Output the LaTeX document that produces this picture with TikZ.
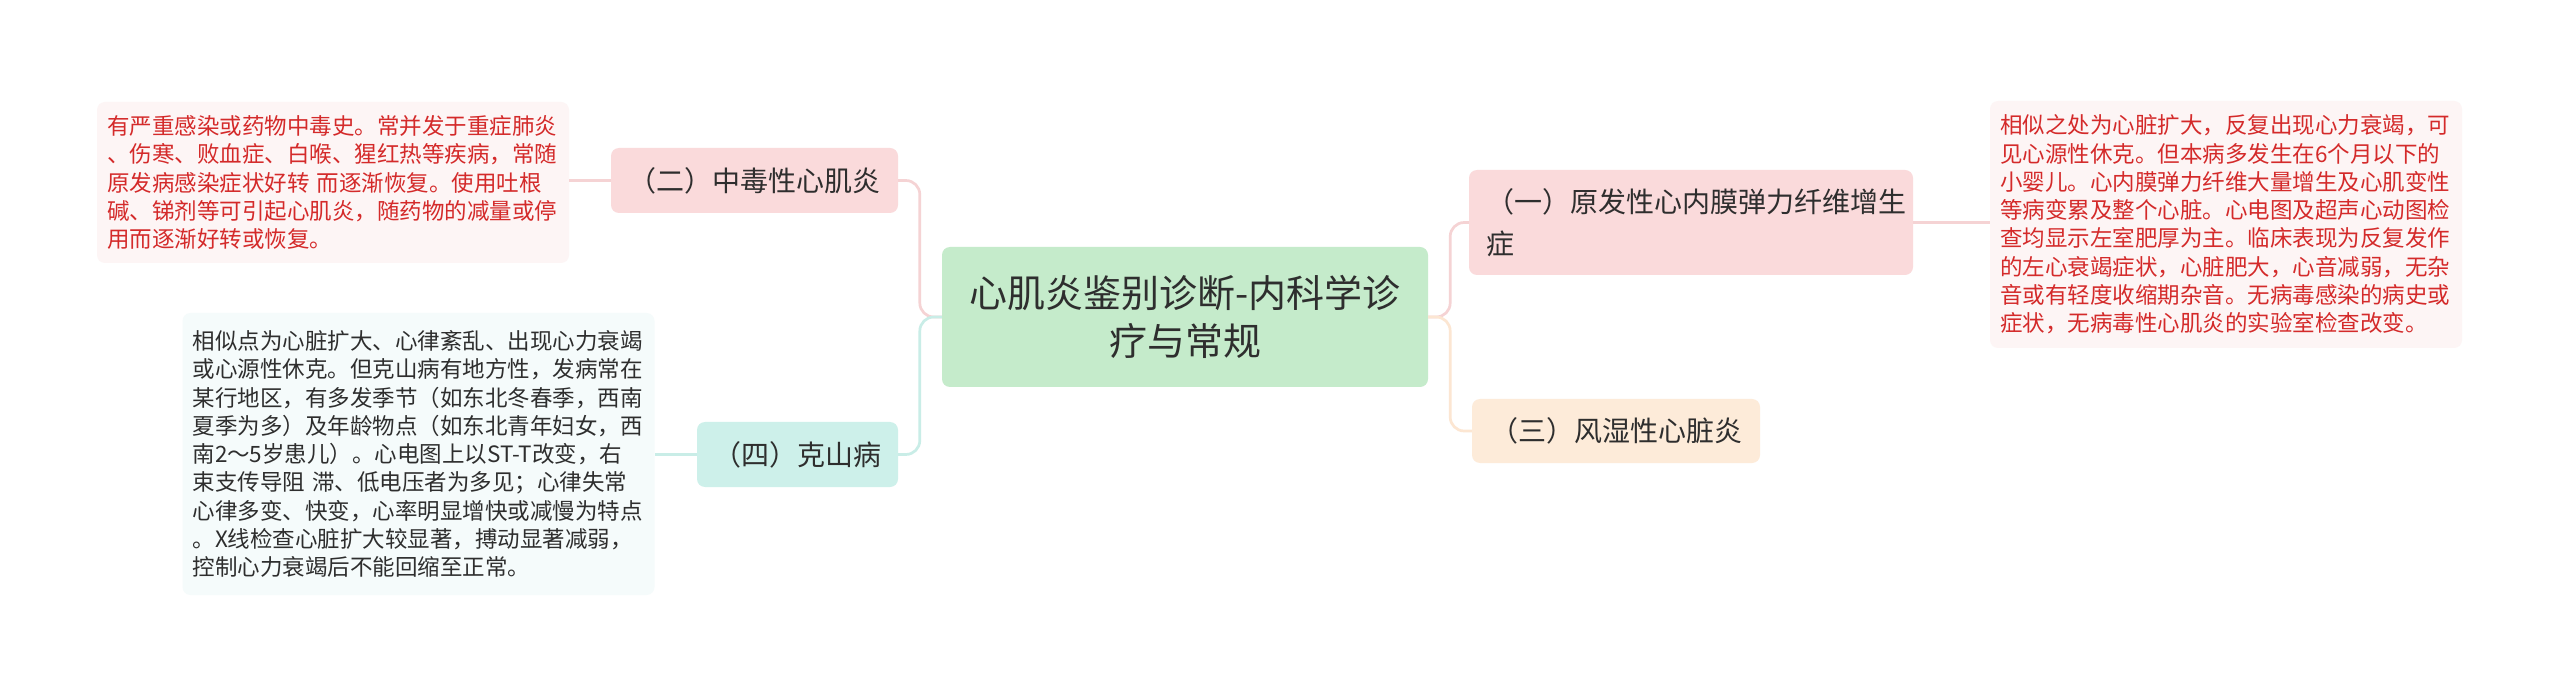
\documentclass[tikz,border=0pt]{standalone}
\usepackage{fontspec}
\setmainfont{Noto Sans CJK SC}
\definecolor{cfill}{HTML}{C5EBCB}
\definecolor{pfill}{HTML}{FADADB}
\definecolor{tfill}{HTML}{CDF0EA}
\definecolor{ofill}{HTML}{FDEBD9}
\definecolor{pleaf}{HTML}{FDF5F5}
\definecolor{tleaf}{HTML}{F5FBFB}
\definecolor{redtxt}{HTML}{D42A2A}
\definecolor{pline}{HTML}{F5D3D4}
\definecolor{tline}{HTML}{C9EDE7}
\definecolor{oline}{HTML}{FCE6D2}
\definecolor{txt}{HTML}{2E2E2E}
\begin{document}
\begin{tikzpicture}[x=1pt,y=-1pt,
  box/.style={rounded corners=8pt, inner sep=0pt, text=txt},
  cnode/.style={box, fill=cfill, align=center, font=\fontsize{38}{48}\selectfont},
  mid/.style={box, font=\fontsize{28}{42}\selectfont},
  leaf/.style={rounded corners=8pt, inner xsep=10pt, inner ysep=0pt, align=left, text width=452pt, font=\fontsize{22.5}{28.3}\selectfont},
  conn/.style={line width=2.7pt, rounded corners=14pt}
]
\useasboundingbox (0,0) rectangle (2560,692);
\fill[white] (0,0) rectangle (2560,692);

% central
\node[cnode, minimum width=486pt, minimum height=140pt] (c) at (1185,317) {心肌炎鉴别诊断-内科学诊\\疗与常规};

% second level
\node[mid, fill=pfill, minimum width=287pt, minimum height=65pt] (n2) at (754.5,180.5) {（二）中毒性心肌炎};
\node[mid, fill=tfill, minimum width=201pt, minimum height=65pt] (n4) at (797.5,454.5) {（四）克山病};
\node[mid, fill=pfill, minimum width=444pt, minimum height=105pt, text width=410pt, align=left] (n1) at (1691,222.5) {（一）原发性心内膜弹力纤维增生\\症};
\node[mid, fill=ofill, minimum width=288pt, minimum height=64pt] (n3) at (1616,431) {（三）风湿性心脏炎};

% leaves
\node[leaf, fill=pleaf, text=redtxt, minimum height=161pt] (l2) at (333,182.5) {有严重感染或药物中毒史。常并发于重症肺炎\\、伤寒、败血症、白喉、猩红热等疾病，常随\\原发病感染症状好转 而逐渐恢复。使用吐根\\碱、锑剂等可引起心肌炎，随药物的减量或停\\用而逐渐好转或恢复。};
\node[leaf, fill=tleaf, text=txt, minimum height=282pt] (l4) at (418.5,454) {相似点为心脏扩大、心律紊乱、出现心力衰竭\\或心源性休克。但克山病有地方性，发病常在\\某行地区，有多发季节（如东北冬春季，西南\\夏季为多）及年龄物点（如东北青年妇女，西\\南2～5岁患儿）。心电图上以ST-T改变，右\\束支传导阻 滞、低电压者为多见；心律失常\\心律多变、快变，心率明显增快或减慢为特点\\。X线检查心脏扩大较显著，搏动显著减弱，\\控制心力衰竭后不能回缩至正常。};
\node[leaf, fill=pleaf, text=redtxt, minimum height=247pt] (l1) at (2226,224.5) {相似之处为心脏扩大，反复出现心力衰竭，可\\见心源性休克。但本病多发生在6个月以下的\\小婴儿。心内膜弹力纤维大量增生及心肌变性\\等病变累及整个心脏。心电图及超声心动图检\\查均显示左室肥厚为主。临床表现为反复发作\\的左心衰竭症状，心脏肥大，心音减弱，无杂\\音或有轻度收缩期杂音。无病毒感染的病史或\\症状，无病毒性心肌炎的实验室检查改变。};

% connectors center -> second level
\draw[conn, pline] (c.west) -- ++(-22,0) |- (n2.east);
\draw[conn, tline] (c.west) -- ++(-22,0) |- (n4.east);
\draw[conn, pline] (c.east) -- ++(22,0) |- (n1.west);
\draw[conn, oline] (c.east) -- ++(22,0) |- (n3.west);

% connectors second level -> leaves
\draw[conn, pline] (n2.west) -- (n2.west -| l2.east);
\draw[conn, tline] (n4.west) -- (n4.west -| l4.east);
\draw[conn, pline] (n1.east) -- (n1.east -| l1.west);
\end{tikzpicture}
\end{document}
